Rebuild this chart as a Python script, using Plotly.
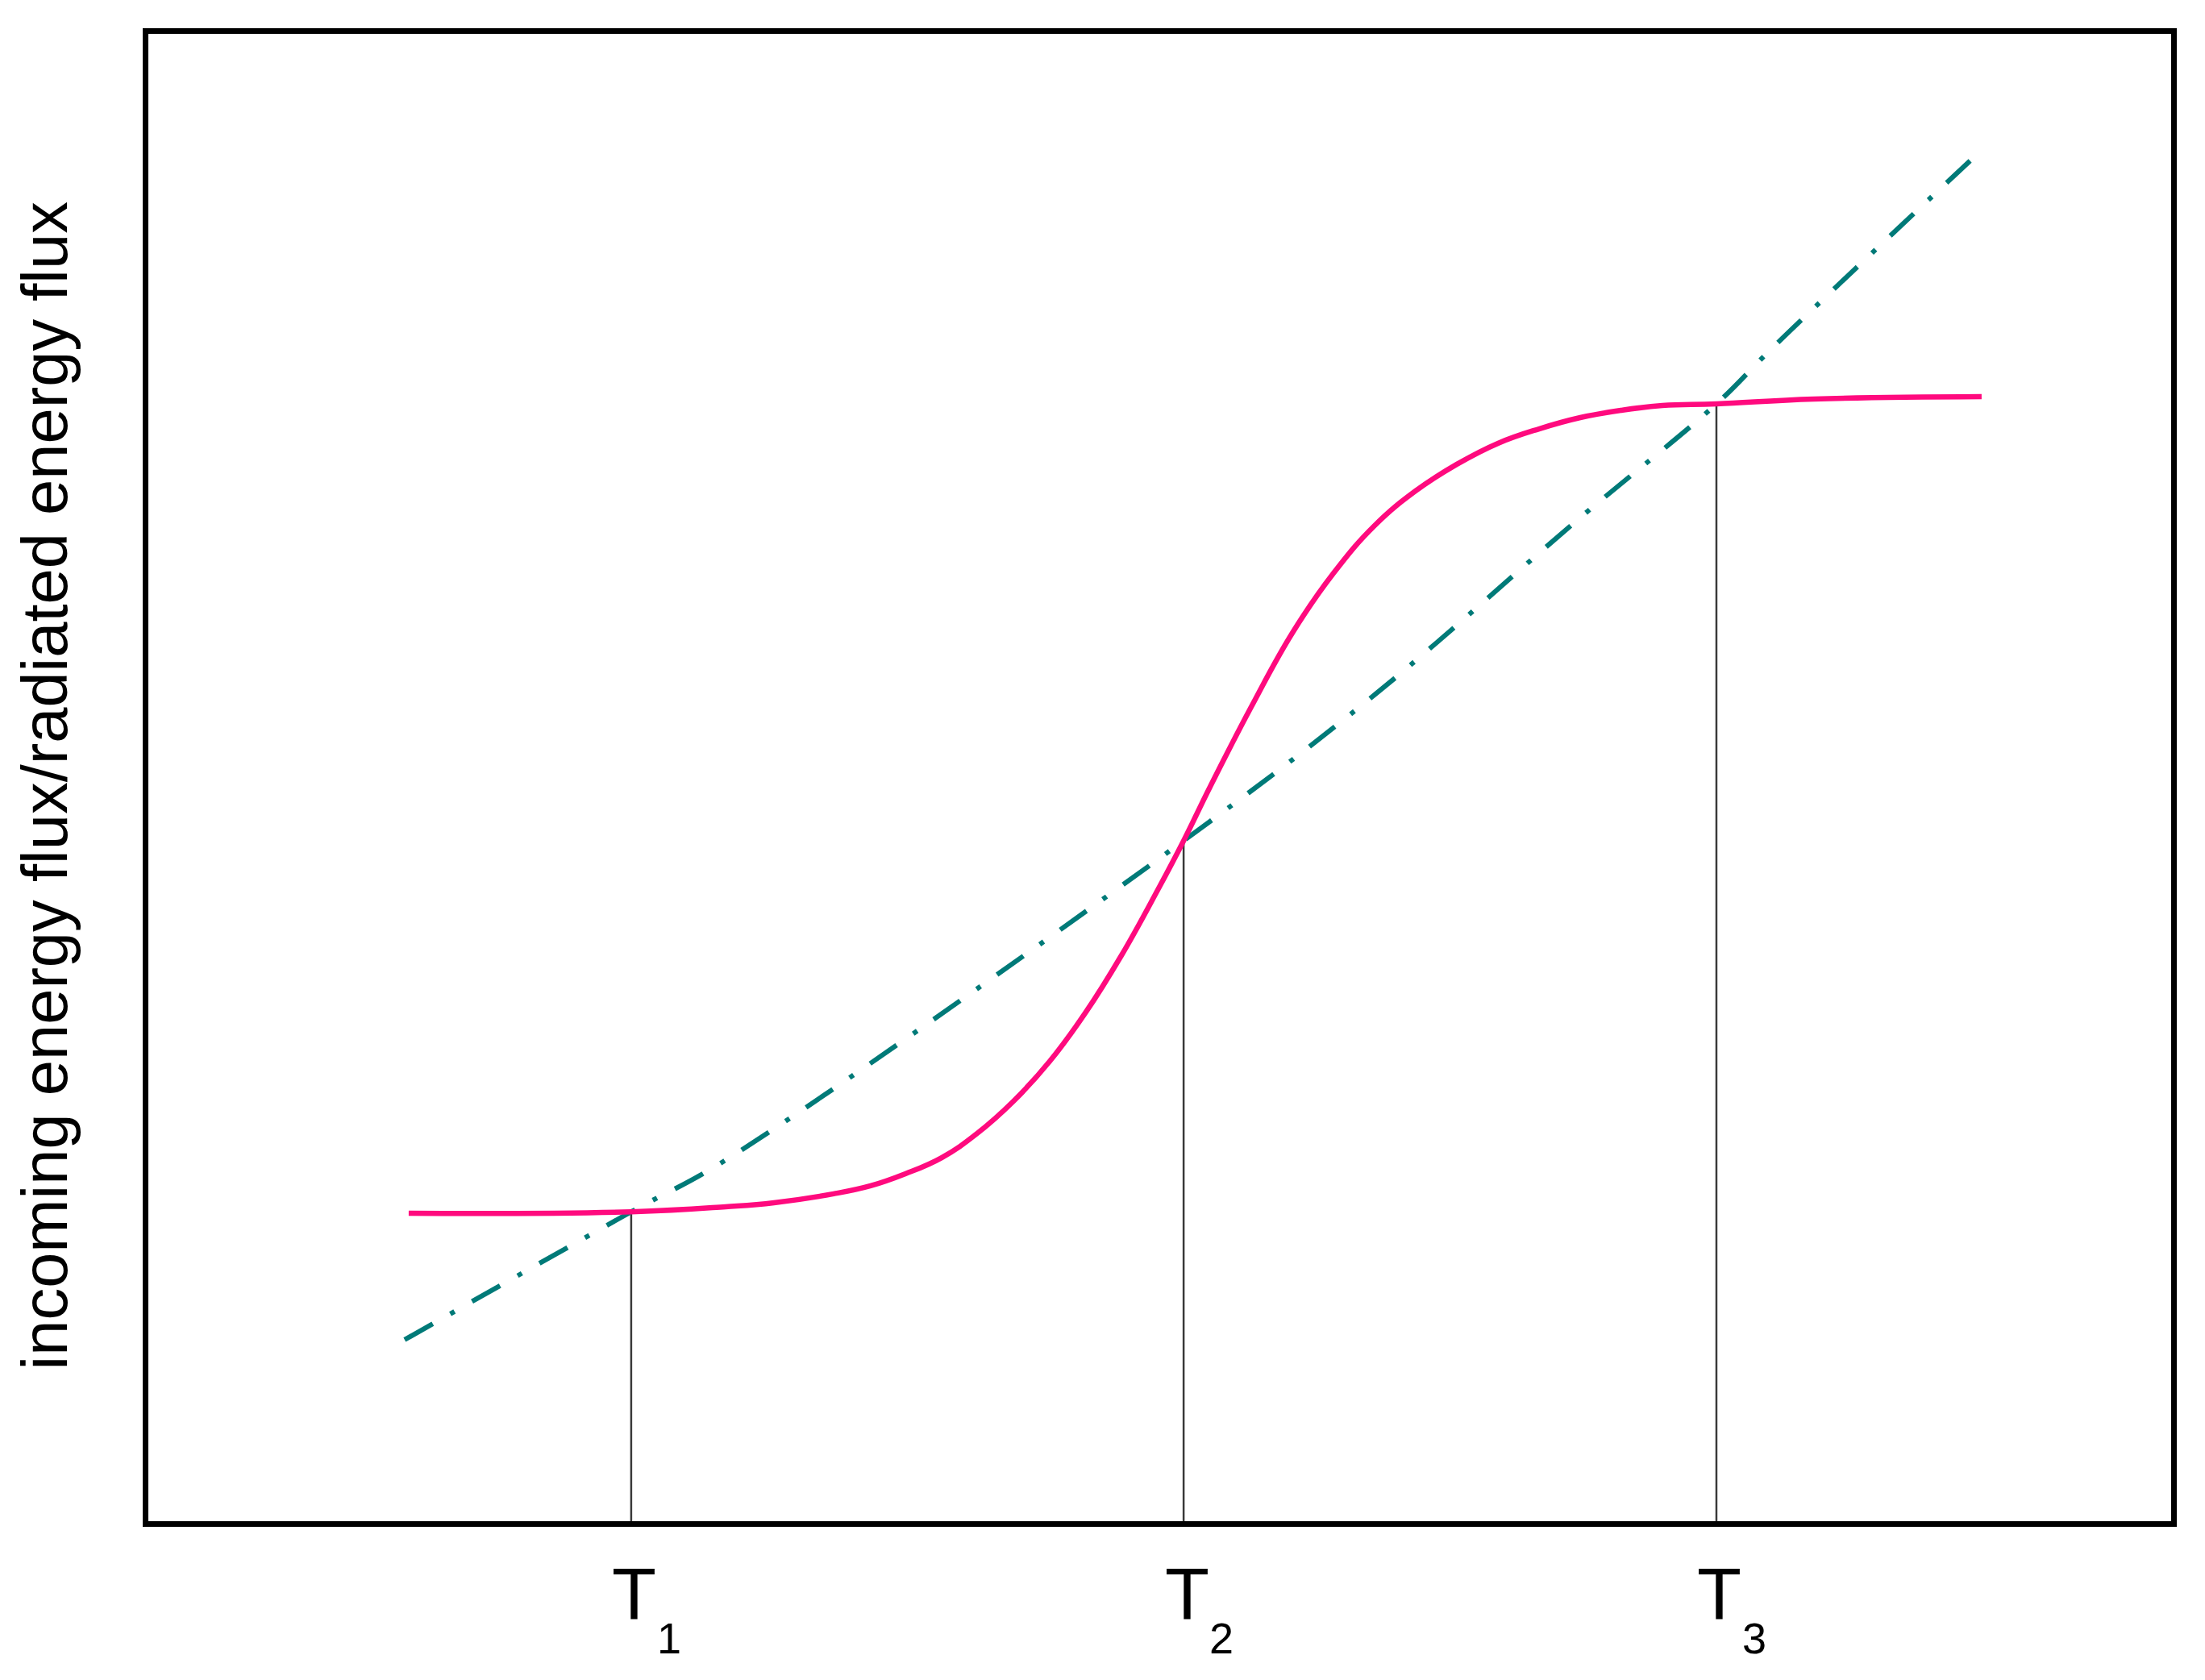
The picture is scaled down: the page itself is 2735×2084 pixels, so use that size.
import plotly.graph_objects as go

# ---- data (arbitrary units: x = temperature 0..100, y = energy flux 0..100) ----
absorbed_T = [12.87, 23.87, 28.54, 30.93, 33.88, 35.71, 37.43, 39.22, 40.97, 42.77,
              44.56, 46.31, 48.11, 49.90, 51.18, 52.49, 54.52, 56.56, 58.59, 60.62,
              62.65, 64.69, 66.72, 68.75, 70.79, 72.82, 74.85, 77.52, 82.34, 90.63]
absorbed_flux = [20.70, 20.80, 21.14, 21.41, 22.01, 22.55, 23.36, 24.44, 26.07, 28.24,
                 30.92, 34.15, 38.05, 42.44, 45.75, 49.38, 54.74, 59.73, 63.74, 66.94,
                 69.27, 71.06, 72.47, 73.44, 74.20, 74.69, 75.01, 75.12, 75.45, 75.61]

radiated_T = [12.67, 23.87, 28.54, 51.18, 60.62, 70.79, 77.52, 80.35, 90.59]
radiated_flux = [12.20, 20.80, 24.28, 45.75, 55.56, 67.48, 75.12, 78.97, 92.14]

equilibrium_T = [23.87, 51.18, 77.52]
equilibrium_flux = [20.80, 45.75, 75.12]
tick_base = ["T", "T", "T"]
tick_sub = ["1", "2", "3"]

y_title = "incoming energy flux/radiated energy flux"

PINK = "#FF0A7E"
TEAL = "#007A78"
FONT = "Liberation Sans, Arial, sans-serif"

fig = go.Figure()

# vertical drop lines at equilibrium temperatures
for t, f in zip(equilibrium_T, equilibrium_flux):
    fig.add_trace(go.Scatter(x=[t, t], y=[0, f], mode="lines",
                             line=dict(color="#3a3a3a", width=2.5),
                             hoverinfo="skip", showlegend=False))

fig.add_trace(go.Scatter(x=radiated_T, y=radiated_flux, mode="lines",
                         line=dict(color=TEAL, width=6, dash="40px,25px,6px,25px",
                                   shape="spline", smoothing=1.0),
                         showlegend=False))

fig.add_trace(go.Scatter(x=absorbed_T, y=absorbed_flux, mode="lines",
                         line=dict(color=PINK, width=6.5, shape="spline", smoothing=1.2),
                         showlegend=False))

axis_common = dict(showline=True, linecolor="black", linewidth=7, mirror=True,
                   showgrid=False, zeroline=False, ticks="", showticklabels=False)

fig.update_xaxes(range=[0, 100], **axis_common)
fig.update_yaxes(range=[0, 100], **axis_common)

annotations = []
for t, base, sub in zip(equilibrium_T, tick_base, tick_sub):
    annotations.append(dict(x=t, y=0, xref="x", yref="paper", text=base,
                            showarrow=False, xanchor="center", yanchor="middle",
                            xshift=4, yshift=-91,
                            font=dict(family=FONT, size=90, color="black")))
    annotations.append(dict(x=t, y=0, xref="x", yref="paper", text=sub,
                            showarrow=False, xanchor="center", yanchor="middle",
                            xshift=47, yshift=-145,
                            font=dict(family=FONT, size=54, color="black")))

annotations.append(dict(x=0, y=0.5, xref="paper", yref="paper", text=y_title,
                        textangle=-90, showarrow=False, xanchor="center",
                        yanchor="middle", xshift=-129, yshift=-11,
                        font=dict(family=FONT, size=79.5, color="black")))

# page body has an 8px margin: shrink the figure so the plot area lands where it should
fig.update_layout(width=2719, height=2068,
                  margin=dict(l=176, r=34, t=34, b=189, pad=0),
                  paper_bgcolor="white", plot_bgcolor="white",
                  annotations=annotations, showlegend=False)

fig.write_html("out.html", config={"displayModeBar": False})
